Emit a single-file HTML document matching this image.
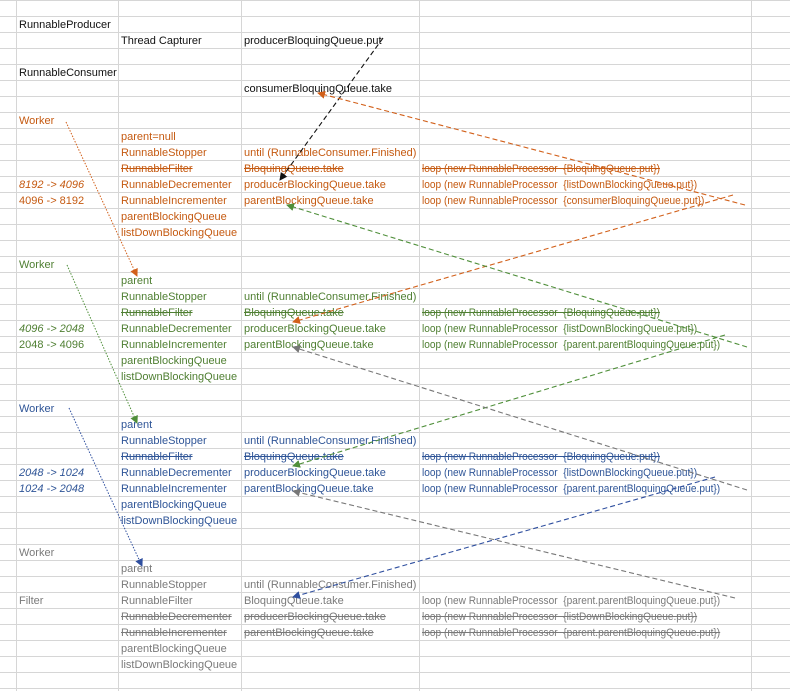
<!DOCTYPE html>
<html><head><meta charset="utf-8"><style>
html,body{margin:0;padding:0;background:#fff;}
#w{position:relative;width:790px;height:691px;overflow:hidden;font-family:"Liberation Sans",sans-serif;font-size:11px;}
.t{position:absolute;height:16px;line-height:19px;white-space:nowrap;}
.d{transform:scaleX(0.92);transform-origin:0 0;}
.s{text-decoration:line-through;}
.i{font-style:italic;}
.k{color:#111}.o{color:#c55a11}.g{color:#4f7f32}.b{color:#2f5597}.y{color:#7a7a7a}
svg{position:absolute;left:0;top:0;}
</style></head><body><div id="w">
<svg width="790" height="691" id="grid"></svg>
<div id="txt"></div>
<svg width="790" height="691">
<defs>
<marker id="mk" markerWidth="8" markerHeight="8" refX="7" refY="4" orient="auto" markerUnits="userSpaceOnUse"><path d="M0,0 L8,4 L0,8 z" fill="#111"/></marker>
<marker id="mo" markerWidth="8" markerHeight="8" refX="7" refY="4" orient="auto" markerUnits="userSpaceOnUse"><path d="M0,0 L8,4 L0,8 z" fill="#d2601a"/></marker>
<marker id="mg" markerWidth="8" markerHeight="8" refX="7" refY="4" orient="auto" markerUnits="userSpaceOnUse"><path d="M0,0 L8,4 L0,8 z" fill="#4f8f3a"/></marker>
<marker id="mb" markerWidth="8" markerHeight="8" refX="7" refY="4" orient="auto" markerUnits="userSpaceOnUse"><path d="M0,0 L8,4 L0,8 z" fill="#2f4f9f"/></marker>
<marker id="my" markerWidth="8" markerHeight="8" refX="7" refY="4" orient="auto" markerUnits="userSpaceOnUse"><path d="M0,0 L8,4 L0,8 z" fill="#777"/></marker>
</defs>
<g fill="none" stroke-width="1.1" stroke-dasharray="5,3">
<line x1="383" y1="38" x2="280" y2="180" stroke="#111" marker-end="url(#mk)"/>
<line x1="745" y1="205" x2="318" y2="93" stroke="#d2601a" marker-end="url(#mo)"/>
<line x1="733" y1="195" x2="293" y2="322" stroke="#d2601a" marker-end="url(#mo)"/>
<line x1="747" y1="347" x2="287" y2="205" stroke="#4f8f3a" marker-end="url(#mg)"/>
<line x1="725" y1="335" x2="293" y2="466" stroke="#4f8f3a" marker-end="url(#mg)"/>
<line x1="747" y1="490" x2="293" y2="347" stroke="#777" marker-end="url(#my)"/>
<line x1="715" y1="477" x2="293" y2="597" stroke="#2f4f9f" marker-end="url(#mb)"/>
<line x1="735" y1="598" x2="293" y2="491" stroke="#777" marker-end="url(#my)"/>
</g>
<g fill="none" stroke-width="1" stroke-dasharray="1.5,1.5">
<line x1="66" y1="122" x2="137" y2="276" stroke="#d2601a" marker-end="url(#mo)"/>
<line x1="67" y1="265" x2="137" y2="423" stroke="#4f8f3a" marker-end="url(#mg)"/>
<line x1="69" y1="408" x2="142" y2="566" stroke="#2f4f9f" marker-end="url(#mb)"/>
</g>
</svg>
</div>
<script>
var g=document.getElementById('grid'),s='';
for(var i=0;i<=44;i++){var y=16*i+0.5;s+='<line x1="0" y1="'+y+'" x2="790" y2="'+y+'" stroke="#d6d6d6"/>';}
[16.5,118.5,241.5,419.5,751.5].forEach(function(x){s+='<line x1="'+x+'" y1="0" x2="'+x+'" y2="691" stroke="#d6d6d6"/>';});
g.innerHTML=s;
var C=[19,121,244,422,754];
var L="loop (new RunnableProcessor &nbsp;";
var rows=[
[1,0,'k','RunnableProducer'],[2,1,'k','Thread Capturer'],[2,2,'k','producerBloquingQueue.put'],
[4,0,'k','RunnableConsumer'],[5,2,'k','consumerBloquingQueue.take'],
[7,0,'o','Worker'],[8,1,'o','parent=null'],[9,1,'o','RunnableStopper'],[9,2,'o','until (RunnableConsumer.Finished)'],
[10,1,'o s','RunnableFilter'],[10,2,'o s','BloquingQueue.take'],[10,3,'o s',L+'{BloquingQueue.put})'],
[11,0,'o i','8192 -> 4096'],[11,1,'o','RunnableDecrementer'],[11,2,'o','producerBlockingQueue.take'],[11,3,'o',L+'{listDownBlockingQueue.put})'],
[12,0,'o','4096 -> 8192'],[12,1,'o','RunnableIncrementer'],[12,2,'o','parentBlockingQueue.take'],[12,3,'o',L+'{consumerBloquingQueue.put})'],
[13,1,'o','parentBlockingQueue'],[14,1,'o','listDownBlockingQueue'],
[16,0,'g','Worker'],[17,1,'g','parent'],[18,1,'g','RunnableStopper'],[18,2,'g','until (RunnableConsumer.Finished)'],
[19,1,'g s','RunnableFilter'],[19,2,'g s','BloquingQueue.take'],[19,3,'g s',L+'{BloquingQueue.put})'],
[20,0,'g i','4096 -> 2048'],[20,1,'g','RunnableDecrementer'],[20,2,'g','producerBlockingQueue.take'],[20,3,'g',L+'{listDownBlockingQueue.put})'],
[21,0,'g','2048 -> 4096'],[21,1,'g','RunnableIncrementer'],[21,2,'g','parentBlockingQueue.take'],[21,3,'g',L+'{parent.parentBloquingQueue.put})'],
[22,1,'g','parentBlockingQueue'],[23,1,'g','listDownBlockingQueue'],
[25,0,'b','Worker'],[26,1,'b','parent'],[27,1,'b','RunnableStopper'],[27,2,'b','until (RunnableConsumer.Finished)'],
[28,1,'b s','RunnableFilter'],[28,2,'b s','BloquingQueue.take'],[28,3,'b s',L+'{BloquingQueue.put})'],
[29,0,'b i','2048 -> 1024'],[29,1,'b','RunnableDecrementer'],[29,2,'b','producerBlockingQueue.take'],[29,3,'b',L+'{listDownBlockingQueue.put})'],
[30,0,'b i','1024 -> 2048'],[30,1,'b','RunnableIncrementer'],[30,2,'b','parentBlockingQueue.take'],[30,3,'b',L+'{parent.parentBloquingQueue.put})'],
[31,1,'b','parentBlockingQueue'],[32,1,'b','listDownBlockingQueue'],
[34,0,'y','Worker'],[35,1,'y','parent'],[36,1,'y','RunnableStopper'],[36,2,'y','until (RunnableConsumer.Finished)'],
[37,0,'y','Filter'],[37,1,'y','RunnableFilter'],[37,2,'y','BloquingQueue.take'],[37,3,'y',L+'{parent.parentBloquingQueue.put})'],
[38,1,'y s','RunnableDecrementer'],[38,2,'y s','producerBlockingQueue.take'],[38,3,'y s',L+'{listDownBlockingQueue.put})'],
[39,1,'y s','RunnableIncrementer'],[39,2,'y s','parentBlockingQueue.take'],[39,3,'y s',L+'{parent.parentBloquingQueue.put})'],
[40,1,'y','parentBlockingQueue'],[41,1,'y','listDownBlockingQueue']];
var h='';rows.forEach(function(r){h+='<div class="t '+r[2]+(r[1]==3?' d':'')+'" style="top:'+(16*r[0])+'px;left:'+C[r[1]]+'px">'+r[3]+'</div>';});
document.getElementById('txt').innerHTML=h;
</script>
</body></html>
